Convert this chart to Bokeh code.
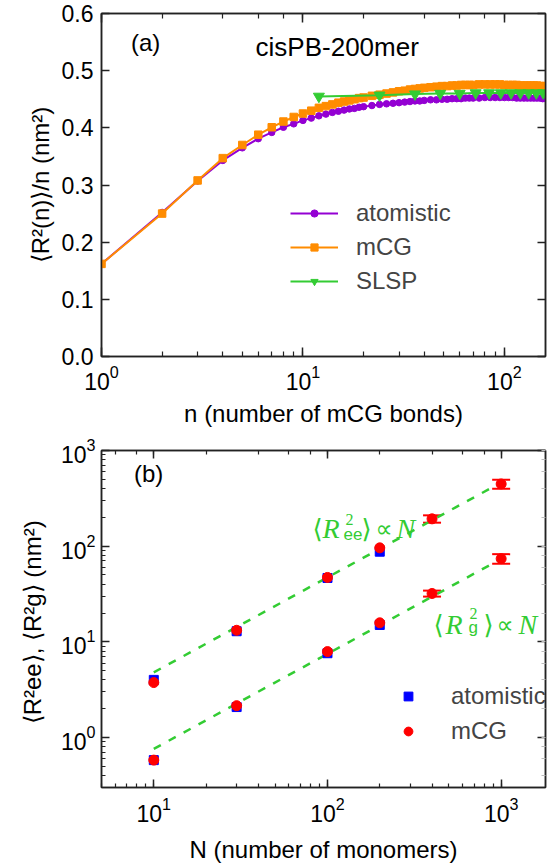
import math
from bokeh.plotting import figure
from bokeh.layouts import column
from bokeh.models import (ColumnDataSource, LogAxis, LinearAxis, Legend, LegendItem,
                          Label, Whisker, TeeHead, Range1d, FixedTicker, CustomJSTickFormatter,
                          PrintfTickFormatter)
from bokeh.embed import file_html
from bokeh.resources import INLINE

# ---------------- Panel (a) data ----------------
n_bonds = [1, 2, 3, 4, 5, 6, 7, 8, 9, 10, 11, 12, 13, 14, 15, 16, 17, 18, 19, 20,
           22, 24, 26, 28, 30, 32, 34, 36, 38, 40, 43, 46, 49, 52, 55, 58, 61, 64, 67, 70,
           75, 80, 85, 90, 95, 100, 105, 110, 115, 120, 125, 130, 135, 140, 145, 150, 155, 160]
atomistic_a = [0.162, 0.252, 0.307, 0.343, 0.365, 0.381, 0.392, 0.401, 0.407, 0.413,
               0.417, 0.421, 0.424, 0.427, 0.429, 0.431, 0.433, 0.434, 0.436, 0.437,
               0.439, 0.441, 0.442, 0.443, 0.444, 0.445, 0.446, 0.447, 0.447, 0.448,
               0.449, 0.449, 0.450, 0.450, 0.451, 0.451, 0.451, 0.452, 0.452, 0.452,
               0.452, 0.453, 0.453, 0.453, 0.453, 0.453, 0.453, 0.453, 0.452, 0.452,
               0.452, 0.452, 0.452, 0.452, 0.452, 0.452, 0.451, 0.451]
mcg_a = [0.162, 0.250, 0.308, 0.347, 0.370, 0.388, 0.401, 0.411, 0.419, 0.425,
         0.430, 0.435, 0.438, 0.441, 0.444, 0.446, 0.448, 0.450, 0.452, 0.453,
         0.456, 0.458, 0.460, 0.462, 0.464, 0.465, 0.467, 0.468, 0.469, 0.470,
         0.471, 0.472, 0.473, 0.473, 0.474, 0.474, 0.475, 0.475, 0.475, 0.475,
         0.476, 0.476, 0.476, 0.476, 0.476, 0.475, 0.475, 0.475, 0.475, 0.474,
         0.474, 0.474, 0.474, 0.474, 0.474, 0.473, 0.473, 0.473]
slsp_n = [12, 24, 36, 48, 60, 72, 84, 96, 108, 120, 132, 144, 156]
slsp_a = [0.455, 0.457, 0.459, 0.460, 0.460, 0.461, 0.461, 0.461, 0.461, 0.461, 0.461, 0.461, 0.461]
y_ticks_a = [0.0, 0.1, 0.2, 0.3, 0.4, 0.5, 0.6]

# ---------------- Panel (b) data ----------------
N_atom = [10, 30, 100, 200]
Ree_atom = [4.0, 12.9, 46.5, 87.5]
Rg_atom = [0.58, 2.08, 7.6, 15.0]
N_mcg = [10, 30, 100, 200, 400, 1000]
Ree_mcg = [3.75, 13.2, 47.1, 96.0, 193.0, 447.0]
Ree_mcg_err = [0, 0, 0, 0, 17.0, 48.0]
Rg_mcg = [0.58, 2.15, 7.9, 15.8, 32.0, 74.0]
Rg_mcg_err = [0, 0, 0, 0, 2.3, 8.5]
fit_N = [10, 950]
fit_Ree = [4.8, 440.0]
fit_Rg = [0.76, 70.0]

FONT = "Liberation Sans"
SERIF = "Liberation Serif"
SYM = "DejaVu Sans"
AX = "#222222"
PURPLE = "#9400d3"
ORANGE = "#ff8c00"
GREEN = "#33cc33"


def style_axis(ax, major_in=8, minor_in=4, labels=True, minor=True):
    ax.axis_line_color = AX
    ax.axis_line_width = 1.5
    ax.major_tick_in = major_in
    ax.major_tick_out = 0
    ax.minor_tick_in = minor_in
    ax.minor_tick_out = 0
    ax.major_tick_line_color = AX
    ax.major_tick_line_width = 1.5
    ax.minor_tick_line_color = AX if minor else None
    ax.minor_tick_line_width = 1.2
    ax.major_label_text_font = FONT
    ax.major_label_text_font_size = "23px"
    ax.major_label_text_color = "black"
    ax.axis_label_text_font = FONT
    ax.axis_label_text_font_size = "24px"
    ax.axis_label_text_font_style = "normal"
    ax.axis_label_text_color = "black"
    if not labels:
        ax.formatter = CustomJSTickFormatter(code="return ''")
        ax.major_label_standoff = 0


def add_text(plot, x, y, text, dx=0, dy=0, font=FONT, size="24px", style="normal",
             color="black", angle=0.0, align="left", baseline="alphabetic"):
    plot.add_layout(Label(x=x, y=y, x_offset=dx, y_offset=dy, text=text, angle=angle,
                          text_font=font, text_font_size=size, text_font_style=style,
                          text_color=color, text_align=align, text_baseline=baseline))


# ================= Panel (a) =================
p1 = figure(width=552, height=430, x_axis_type="log",
            x_range=Range1d(1, 160), y_range=Range1d(0, 0.6),
            min_border_left=96, min_border_right=7, min_border_top=13, min_border_bottom=74,
            output_backend="svg", toolbar_location=None)
p1.xgrid.grid_line_color = None
p1.ygrid.grid_line_color = None
p1.outline_line_color = AX
p1.outline_line_width = 1.5

p1.yaxis.ticker = FixedTicker(ticks=y_ticks_a)
p1.yaxis.formatter = PrintfTickFormatter(format="%.1f")
for ax in p1.xaxis:
    style_axis(ax, major_in=9, minor_in=5)
    ax.axis_label = "n (number of mCG bonds)"
    ax.major_label_standoff = 8
    ax.axis_label_standoff = 7
for ax in p1.yaxis:
    style_axis(ax, minor=False)
    ax.axis_label = "⟨R²(n)⟩/n (nm²)"
    ax.major_label_standoff = 8
    ax.axis_label_standoff = 5

top1 = LogAxis()
style_axis(top1, major_in=9, minor_in=5, labels=False)
p1.add_layout(top1, "above")
right1 = LinearAxis(ticker=FixedTicker(ticks=y_ticks_a))
style_axis(right1, labels=False, minor=False)
p1.add_layout(right1, "right")

src_a = ColumnDataSource(dict(n=n_bonds, atom=atomistic_a, mcg=mcg_a))
src_s = ColumnDataSource(dict(n=slsp_n, s=slsp_a))

l_atom = p1.line("n", "atom", source=src_a, line_color=PURPLE, line_width=2)
m_atom = p1.scatter("n", "atom", source=src_a, marker="circle", size=6.5,
                    fill_color=PURPLE, line_color=PURPLE)
l_mcg = p1.line("n", "mcg", source=src_a, line_color=ORANGE, line_width=2)
m_mcg = p1.scatter("n", "mcg", source=src_a, marker="square", size=7.5,
                   fill_color=ORANGE, line_color=ORANGE)
l_s = p1.line("n", "s", source=src_s, line_color=GREEN, line_width=2)
m_s = p1.scatter("n", "s", source=src_s, marker="inverted_triangle", size=11,
                 fill_color=GREEN, line_color=GREEN)

leg1 = Legend(items=[LegendItem(label="atomistic", renderers=[l_atom, m_atom]),
                     LegendItem(label="mCG", renderers=[l_mcg, m_mcg]),
                     LegendItem(label="SLSP", renderers=[l_s, m_s])],
              location=(189, 60), border_line_color=None, background_fill_alpha=0,
              label_text_font=FONT, label_text_font_size="24px",
              glyph_width=48, glyph_height=18, label_height=30, spacing=4,
              padding=0, margin=0, label_standoff=18)
p1.add_layout(leg1)

add_text(p1, 1.40, 0.549, "(a)", baseline="middle")
add_text(p1, 5.82, 0.542, "cisPB-200mer", size="26px", baseline="middle")

# ================= Panel (b) =================
p2 = figure(width=552, height=435, x_axis_type="log", y_axis_type="log",
            x_range=Range1d(5, 1800), y_range=Range1d(0.3, 1000),
            min_border_left=101, min_border_right=3, min_border_top=20, min_border_bottom=72,
            output_backend="svg", toolbar_location=None)
p2.xgrid.grid_line_color = None
p2.ygrid.grid_line_color = None
p2.outline_line_color = AX
p2.outline_line_width = 1.5

for ax in p2.xaxis:
    style_axis(ax)
    ax.axis_label = "N (number of monomers)"
    ax.major_label_standoff = 9
    ax.axis_label_standoff = 11
for ax in p2.yaxis:
    style_axis(ax)
    ax.axis_label = "⟨R²ee⟩, ⟨R²g⟩  (nm²)"
    ax.major_label_standoff = 6
    ax.axis_label_standoff = 12

top2 = LogAxis()
style_axis(top2, labels=False)
p2.add_layout(top2, "above")
right2 = LogAxis()
style_axis(right2, labels=False)
right2.minor_tick_line_color = "#bbbbbb"
p2.add_layout(right2, "right")

src_fit = ColumnDataSource(dict(N=fit_N, ree=fit_Ree, rg=fit_Rg))
p2.line("N", "ree", source=src_fit, line_color=GREEN, line_width=2.5, line_dash="8 9")
p2.line("N", "rg", source=src_fit, line_color=GREEN, line_width=2.5, line_dash="8 9")

src_at = ColumnDataSource(dict(N=N_atom, ree=Ree_atom, rg=Rg_atom))
sq1 = p2.scatter("N", "ree", source=src_at, marker="square", size=9,
                 fill_color="#0000ff", line_color="#0000ff")
p2.scatter("N", "rg", source=src_at, marker="square", size=9,
           fill_color="#0000ff", line_color="#0000ff")

err_N, err_lo, err_hi = [], [], []
for N, v, e in list(zip(N_mcg, Ree_mcg, Ree_mcg_err)) + list(zip(N_mcg, Rg_mcg, Rg_mcg_err)):
    if e > 0:
        err_N.append(N)
        err_lo.append(v - e)
        err_hi.append(v + e)
src_err = ColumnDataSource(dict(N=err_N, lo=err_lo, hi=err_hi))
p2.add_layout(Whisker(source=src_err, base="N", lower="lo", upper="hi", dimension="height",
                      line_color="#ff0000", line_width=2,
                      upper_head=TeeHead(size=18, line_color="#ff0000", line_width=2),
                      lower_head=TeeHead(size=18, line_color="#ff0000", line_width=2)))

src_mc = ColumnDataSource(dict(N=N_mcg, ree=Ree_mcg, rg=Rg_mcg))
c1 = p2.scatter("N", "ree", source=src_mc, marker="circle", size=10,
                fill_color="#ff0000", line_color="#ff0000")
p2.scatter("N", "rg", source=src_mc, marker="circle", size=10,
           fill_color="#ff0000", line_color="#ff0000")

leg2 = Legend(items=[LegendItem(label="atomistic", renderers=[sq1]),
                     LegendItem(label="mCG", renderers=[c1])],
              location=(296, 41), border_line_color=None, background_fill_alpha=0,
              label_text_font=FONT, label_text_font_size="24px",
              glyph_width=22, glyph_height=22, label_height=31, spacing=4,
              padding=0, margin=0, label_standoff=32)
p2.add_layout(leg2)

add_text(p2, 7.69, 580, "(b)", baseline="middle")


def math_label(plot, x, y, pieces):
    for text, dx, dy, font, size, style in pieces:
        add_text(plot, x, y, text, dx=dx, dy=dy, font=font, size=size, style=style,
                 color=GREEN)


math_label(p2, 82, 152, [
    ("⟨", 0, 0, SYM, "26px", "normal"),
    ("R", 10, 0, SERIF, "28px", "italic"),
    ("2", 33, 9, SERIF, "16px", "normal"),
    ("ee", 31, -5, FONT, "17px", "normal"),
    ("⟩", 49, 0, SYM, "26px", "normal"),
    ("∝", 63, 0, SYM, "24px", "normal"),
    ("N", 84, 0, SERIF, "28px", "italic"),
])
math_label(p2, 408, 15.1, [
    ("⟨", 0, 0, SYM, "26px", "normal"),
    ("R", 12, 0, SERIF, "28px", "italic"),
    ("2", 36, 11, SERIF, "16px", "normal"),
    ("g", 35, -3, FONT, "17px", "normal"),
    ("⟩", 50, 0, SYM, "26px", "normal"),
    ("∝", 63, 0, SYM, "24px", "normal"),
    ("N", 85, 0, SERIF, "28px", "italic"),
])

layout = column(p1, p2, spacing=0)
open("out.html", "w").write(file_html(layout, INLINE))
